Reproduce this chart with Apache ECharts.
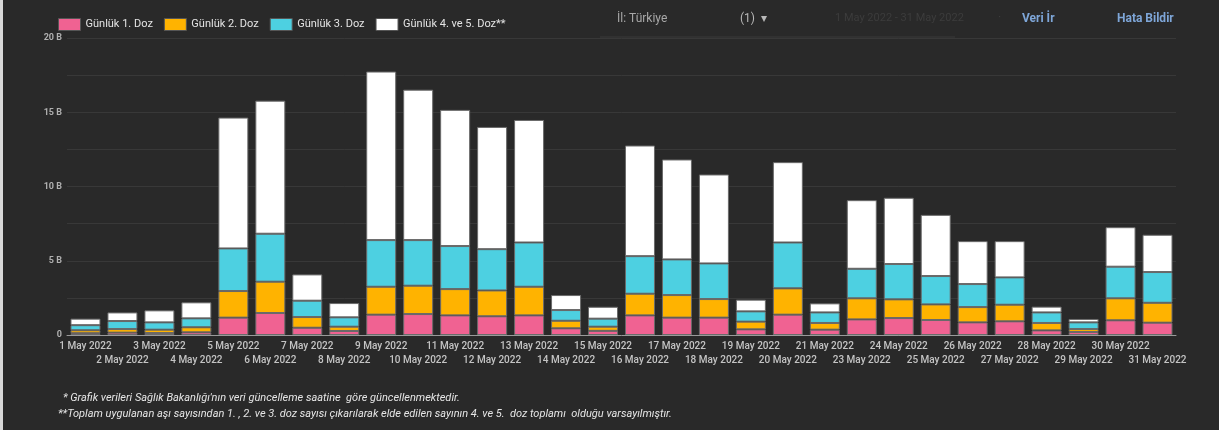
<!DOCTYPE html>
<html>
<head>
<meta charset="utf-8">
<title>Günlük Aşı Sayıları</title>
<script src="https://cdn.jsdelivr.net/npm/echarts@6/dist/echarts.min.js"></script>
<style>
  html, body {
    margin: 0;
    padding: 0;
    background: #d8d8d8;
  }
  #main {
    position: absolute;
    left: 3px;
    top: 0;
    width: 1216px;
    height: 430px;
    background: #292929;
  }
</style>
</head>
<body>
<div id="main"></div>
<script>
// gün etiketleri (22 May yok)
const days = [
  "1 May 2022", "2 May 2022", "3 May 2022", "4 May 2022", "5 May 2022", "6 May 2022",
  "7 May 2022", "8 May 2022", "9 May 2022", "10 May 2022", "11 May 2022", "12 May 2022",
  "13 May 2022", "14 May 2022", "15 May 2022", "16 May 2022", "17 May 2022", "18 May 2022",
  "19 May 2022", "20 May 2022", "21 May 2022", "23 May 2022", "24 May 2022", "25 May 2022",
  "26 May 2022", "27 May 2022", "28 May 2022", "29 May 2022", "30 May 2022", "31 May 2022"
];

// değerler bin (B) cinsinden
const doz1 = [0.12, 0.16, 0.13, 0.18, 1.17, 1.48, 0.49, 0.27, 1.37, 1.41, 1.32, 1.26, 1.32, 0.45, 0.28,
  1.32, 1.17, 1.17, 0.38, 1.37, 0.36, 1.05, 1.14, 1.01, 0.85, 0.92, 0.31, 0.20, 0.99, 0.83];
const doz2 = [0.20, 0.24, 0.23, 0.34, 1.79, 2.11, 0.72, 0.29, 1.88, 1.91, 1.77, 1.74, 1.93, 0.51, 0.28,
  1.46, 1.52, 1.25, 0.52, 1.77, 0.45, 1.42, 1.26, 1.05, 1.03, 1.12, 0.50, 0.20, 1.48, 1.34];
const doz3 = [0.34, 0.54, 0.49, 0.60, 2.87, 3.23, 1.10, 0.63, 3.14, 3.07, 2.90, 2.78, 2.98, 0.72, 0.54,
  2.53, 2.40, 2.40, 0.69, 3.09, 0.71, 1.99, 2.38, 1.91, 1.55, 1.84, 0.71, 0.45, 2.13, 2.07];
const doz45 = [0.44, 0.58, 0.81, 1.08, 8.81, 8.96, 1.77, 0.96, 11.35, 10.13, 9.17, 8.23, 8.25, 1.01, 0.80,
  7.45, 6.73, 5.99, 0.79, 5.41, 0.61, 4.62, 4.46, 4.12, 2.89, 2.44, 0.39, 0.23, 2.66, 2.51];

const seriesNames = ["Günlük 1. Doz", "Günlük 2. Doz", "Günlük 3. Doz", "Günlük 4. ve 5. Doz**"];
const seriesColors = ["#f06292", "#ffb300", "#4dd0e1", "#ffffff"];
const seriesData = [doz1, doz2, doz3, doz45];

const chart = echarts.init(document.getElementById("main"));

const fontFamily = "Roboto, 'Noto Sans', sans-serif";

const option = {
  backgroundColor: "#292929",
  animation: false,
  textStyle: { fontFamily: fontFamily },
  legend: {
    left: 50,
    top: 13,
    itemWidth: 22,
    itemHeight: 12,
    itemGap: 11,
    icon: "rect",
    itemStyle: { borderColor: "#555", borderWidth: 1 },
    textStyle: { color: "#e4e4e4", fontSize: 11, fontFamily: fontFamily },
    data: seriesNames
  },
  grid: {
    left: 64,
    right: 43,
    top: 38,
    bottom: 95
  },
  xAxis: {
    type: "category",
    data: days,
    axisLine: { lineStyle: { color: "#9a9a9a", width: 1 } },
    axisTick: { show: false },
    axisLabel: {
      interval: 0,
      color: "#c4c4c4",
      fontSize: 10,
      fontWeight: 500,
      lineHeight: 14,
      margin: 4,
      // iki satırlı etiketler
      formatter: function (value, index) {
        return index % 2 === 1 ? "\n" + value : value;
      }
    }
  },
  yAxis: {
    type: "value",
    min: 0,
    max: 20,
    interval: 2.5,
    axisLine: { show: false },
    axisTick: { show: false },
    splitLine: { lineStyle: { color: "#383838", width: 1 } },
    axisLabel: {
      color: "#b0b0b0",
      fontSize: 9,
      fontWeight: "bold",
      margin: 5,
      formatter: function (v) {
        if (v === 0) return "0";
        return v % 5 === 0 ? v + " B" : "";
      }
    }
  },
  graphic: [
    // sağ üstteki kontroller
    { type: "text", left: 614, top: 13, style: { text: "İl: Türkiye", fill: "#a8a8a8", font: "12px " + fontFamily } },
    { type: "text", left: 737, top: 13, style: { text: "(1)  ▾", fill: "#b8b8b8", font: "12px " + fontFamily } },
    { type: "text", left: 832, top: 13, style: { text: "1 May 2022 - 31 May 2022", fill: "#3c3c3c", font: "11px " + fontFamily } },
    { type: "text", left: 995, top: 12, style: { text: "·", fill: "#3c3c3c", font: "12px " + fontFamily } },
    { type: "text", left: 1019, top: 13, style: { text: "Veri İr", fill: "#7ea6d8", font: "bold 12px " + fontFamily } },
    { type: "text", left: 1114, top: 13, style: { text: "Hata Bildir", fill: "#7ea6d8", font: "bold 12px " + fontFamily } },
    { type: "line", shape: { x1: 597, y1: 37, x2: 952, y2: 37 }, style: { stroke: "#3a3a3a", lineWidth: 1 } },
    // dipnotlar
    { type: "text", left: 60, top: 393, style: { text: "* Grafik verileri Sağlık Bakanlığı'nın veri güncelleme saatine  göre güncellenmektedir.", fill: "#e6e6e6", font: "italic 11px " + fontFamily } },
    { type: "text", left: 55, top: 409, style: { text: "**Toplam uygulanan aşı sayısından 1. , 2. ve 3. doz sayısı çıkarılarak elde edilen sayının 4. ve 5.  doz toplamı  olduğu varsayılmıştır.", fill: "#e6e6e6", font: "italic 11px " + fontFamily } }
  ],
  series: seriesNames.map(function (name, i) {
    return {
      name: name,
      type: "bar",
      stack: "doz",
      barWidth: 30,
      data: seriesData[i],
      itemStyle: {
        color: seriesColors[i],
        borderColor: "#6a6a6a",
        borderWidth: 1
      }
    };
  })
};

chart.setOption(option);
</script>
</body>
</html>
